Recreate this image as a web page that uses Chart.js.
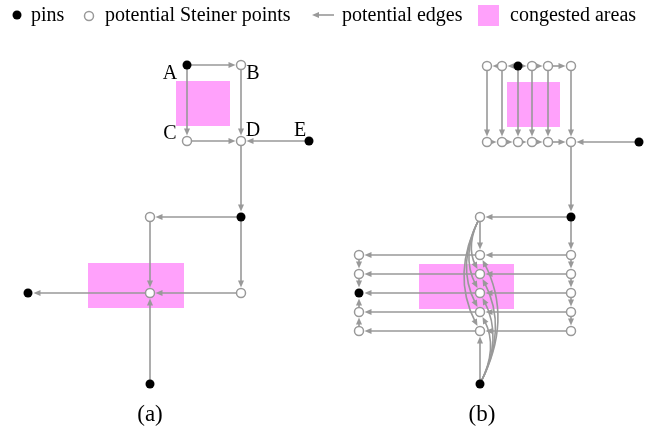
<!DOCTYPE html>
<html>
<head>
<meta charset="utf-8">
<script src="https://cdn.jsdelivr.net/npm/chart.js@4.4.0/dist/chart.umd.min.js"></script>
<style>
    html, body { margin: 0; padding: 0; background: #fff; }
    canvas { display: block; }
</style>
</head>
<body>
<canvas id="steinerChart" width="660" height="432"></canvas>
<script>
// 图 (a)：引脚、候选 Steiner 点、候选边、拥塞区域
const pinsA = [[187, 65], [309, 141], [241, 217], [28, 293], [150, 384]];
const steinerA = [[241, 65], [187, 141], [241, 141], [150, 217], [150, 293], [241, 293]];
const edgesA = [
    [187, 65, 241, 65], [187, 65, 187, 141], [241, 65, 241, 141], [187, 141, 241, 141],
    [309, 141, 241, 141], [241, 141, 241, 217], [241, 217, 150, 217], [150, 217, 150, 293],
    [241, 217, 241, 293], [241, 293, 150, 293], [150, 293, 28, 293], [150, 384, 150, 293]
];
const congestedA = [[176, 81, 230, 126], [88, 263, 184, 308]];
const nodeNamesA = ['A', 'B', 'C', 'D', 'E'];

// 图 (b)
const pinsB = [[518, 66], [639, 142], [571, 217], [359, 293], [480, 384]];
const steinerB = [
    [487, 66], [502, 66], [532, 66], [548, 66], [571, 66],
    [487, 142], [502, 142], [518, 142], [532, 142], [548, 142], [571, 142],
    [480, 217],
    [480, 255], [480, 274], [480, 293], [480, 312], [480, 331],
    [571, 255], [571, 274], [571, 293], [571, 312], [571, 331],
    [359, 255], [359, 274], [359, 312], [359, 331]
];
const edgesB = [
    [502, 66, 487, 66], [518, 66, 502, 66], [518, 66, 532, 66], [532, 66, 548, 66], [548, 66, 571, 66],
    [487, 66, 487, 142], [502, 66, 502, 142], [518, 66, 518, 142], [532, 66, 532, 142], [548, 66, 548, 142], [571, 66, 571, 142],
    [487, 142, 502, 142], [502, 142, 518, 142], [518, 142, 532, 142], [532, 142, 548, 142], [548, 142, 571, 142], [639, 142, 571, 142],
    [571, 142, 571, 217], [571, 217, 480, 217],
    [571, 217, 571, 255], [571, 255, 571, 274], [571, 274, 571, 293], [571, 293, 571, 312], [571, 312, 571, 331],
    [571, 255, 480, 255], [480, 255, 359, 255],
    [571, 274, 480, 274], [480, 274, 359, 274],
    [571, 293, 480, 293], [480, 293, 359, 293],
    [571, 312, 480, 312], [480, 312, 359, 312],
    [571, 331, 480, 331], [480, 331, 359, 331],
    [359, 255, 359, 274], [359, 274, 359, 293], [359, 331, 359, 312], [359, 312, 359, 293],
    [480, 217, 480, 255], [480, 384, 480, 331]
];
const curvedEdgesB = [
    [480, 217, 480, 274], [480, 217, 480, 293], [480, 217, 480, 312], [480, 217, 480, 331],
    [480, 384, 480, 312], [480, 384, 480, 293], [480, 384, 480, 274], [480, 384, 480, 255]
];
const congestedB = [[507, 82, 560, 127], [419, 264, 514, 309]];

const legendLabels = ['pins', 'potential Steiner points', 'potential edges', 'congested areas'];
const panelLabels = ['(a)', '(b)'];

const COLORS = {
    edge: '#999999',
    pin: '#000000',
    steinerFill: '#ffffff',
    congested: '#ffa1fb',
    text: '#000000'
};
const FONT = "'Liberation Serif', 'Times New Roman', serif";
const NODE_R = 4.5;

const toPoints = arr => arr.map(p => ({ x: p[0], y: p[1] }));

// 画箭头
function drawArrowHead(ctx, x, y, ux, uy) {
    const len = 7, half = 3;
    const bx = x - ux * len, by = y - uy * len;
    ctx.beginPath();
    ctx.moveTo(x, y);
    ctx.lineTo(bx - uy * half, by + ux * half);
    ctx.lineTo(bx + uy * half, by - ux * half);
    ctx.closePath();
    ctx.fill();
}

const diagramPlugin = {
    id: 'diagram',
    beforeDatasetsDraw(chart) {
        const { ctx, scales: { x, y } } = chart;
        ctx.save();

        // 拥塞区域
        ctx.fillStyle = COLORS.congested;
        [...congestedA, ...congestedB].forEach(r => {
            const x1 = x.getPixelForValue(r[0]), y1 = y.getPixelForValue(r[1]);
            const x2 = x.getPixelForValue(r[2]), y2 = y.getPixelForValue(r[3]);
            ctx.fillRect(Math.min(x1, x2), Math.min(y1, y2), Math.abs(x2 - x1), Math.abs(y2 - y1));
        });

        ctx.strokeStyle = COLORS.edge;
        ctx.fillStyle = COLORS.edge;
        ctx.lineWidth = 1.6;

        // 直线边
        [...edgesA, ...edgesB].forEach(e => {
            const x1 = x.getPixelForValue(e[0]), y1 = y.getPixelForValue(e[1]);
            const x2 = x.getPixelForValue(e[2]), y2 = y.getPixelForValue(e[3]);
            const d = Math.hypot(x2 - x1, y2 - y1);
            const ux = (x2 - x1) / d, uy = (y2 - y1) / d;
            const ex = x2 - ux * (NODE_R + 1), ey = y2 - uy * (NODE_R + 1);
            ctx.beginPath();
            ctx.moveTo(x1, y1);
            ctx.lineTo(ex - ux * 4, ey - uy * 4);
            ctx.stroke();
            drawArrowHead(ctx, ex, ey, ux, uy);
        });

        // 曲线边：上方扇形向左弯，下方扇形向右弯
        curvedEdgesB.forEach(e => {
            const x1 = x.getPixelForValue(e[0]), y1 = y.getPixelForValue(e[1]);
            const x2 = x.getPixelForValue(e[2]), y2 = y.getPixelForValue(e[3]);
            const d = Math.hypot(x2 - x1, y2 - y1);
            const px = -(y2 - y1) / d, py = (x2 - x1) / d;
            const k = 0.26 * d;
            const cx = (x1 + x2) / 2 + px * k, cy = (y1 + y2) / 2 + py * k;
            const td = Math.hypot(x2 - cx, y2 - cy);
            const ux = (x2 - cx) / td, uy = (y2 - cy) / td;
            const ex = x2 - ux * (NODE_R + 1), ey = y2 - uy * (NODE_R + 1);
            ctx.beginPath();
            ctx.moveTo(x1, y1);
            ctx.quadraticCurveTo(cx, cy, ex - ux * 4, ey - uy * 4);
            ctx.stroke();
            drawArrowHead(ctx, ex, ey, ux, uy);
        });

        ctx.restore();
    },
    afterDraw(chart) {
        const { ctx } = chart;
        ctx.save();
        ctx.fillStyle = COLORS.text;
        ctx.textBaseline = 'alphabetic';

        // 图例
        ctx.font = '20px ' + FONT;
        ctx.beginPath();
        ctx.arc(17, 15, NODE_R, 0, Math.PI * 2);
        ctx.fillStyle = COLORS.pin;
        ctx.fill();
        ctx.fillStyle = COLORS.text;
        ctx.fillText(legendLabels[0], 31, 21);

        ctx.beginPath();
        ctx.arc(89, 16, NODE_R, 0, Math.PI * 2);
        ctx.fillStyle = COLORS.steinerFill;
        ctx.fill();
        ctx.strokeStyle = COLORS.edge;
        ctx.lineWidth = 1.5;
        ctx.stroke();
        ctx.fillStyle = COLORS.text;
        ctx.fillText(legendLabels[1], 105, 21);

        ctx.strokeStyle = COLORS.edge;
        ctx.lineWidth = 1.6;
        ctx.beginPath();
        ctx.moveTo(317, 15);
        ctx.lineTo(334, 15);
        ctx.stroke();
        ctx.fillStyle = COLORS.edge;
        drawArrowHead(ctx, 312, 15, -1, 0);
        ctx.fillStyle = COLORS.text;
        ctx.fillText(legendLabels[2], 342, 21);

        ctx.fillStyle = COLORS.congested;
        ctx.fillRect(478, 5, 21, 21);
        ctx.fillStyle = COLORS.text;
        ctx.fillText(legendLabels[3], 510, 21);

        // 节点名称
        ctx.font = '20px ' + FONT;
        ctx.textAlign = 'center';
        ctx.fillText(nodeNamesA[0], 170, 79);
        ctx.fillText(nodeNamesA[1], 253, 79);
        ctx.fillText(nodeNamesA[2], 170, 139);
        ctx.fillText(nodeNamesA[3], 253, 136);
        ctx.fillText(nodeNamesA[4], 300, 136);

        // 子图标签
        ctx.font = '23px ' + FONT;
        ctx.fillText(panelLabels[0], 150, 421);
        ctx.fillText(panelLabels[1], 482, 421);
        ctx.restore();
    }
};

const ctx = document.getElementById('steinerChart').getContext('2d');
new Chart(ctx, {
    type: 'scatter',
    data: {
        datasets: [{
            label: 'potential Steiner points',
            data: toPoints([...steinerA, ...steinerB]),
            pointRadius: NODE_R,
            pointBackgroundColor: COLORS.steinerFill,
            pointBorderColor: COLORS.edge,
            pointBorderWidth: 1.5
        }, {
            label: 'pins',
            data: toPoints([...pinsA, ...pinsB]),
            pointRadius: NODE_R,
            pointBackgroundColor: COLORS.pin,
            pointBorderColor: COLORS.pin,
            pointBorderWidth: 0
        }]
    },
    options: {
        responsive: false,
        animation: false,
        devicePixelRatio: 1,
        events: [],
        layout: { padding: 0, autoPadding: false },
        plugins: { legend: { display: false }, tooltip: { enabled: false } },
        scales: {
            x: { type: 'linear', min: 0, max: 660, display: false },
            y: { type: 'linear', min: 0, max: 432, reverse: true, display: false }
        }
    },
    plugins: [diagramPlugin]
});
</script>
</body>
</html>
